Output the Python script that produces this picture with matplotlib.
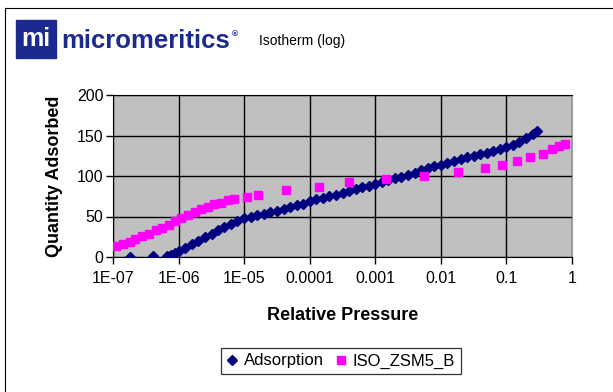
import matplotlib.pyplot as plt
from matplotlib.lines import Line2D
from matplotlib.patches import Rectangle

# Adsorption series (relative pressure, quantity adsorbed)
ads_pressure = [
    1.8e-7, 4.1e-7, 6.6e-7, 7.8e-7, 8.9e-7,
    1.0e-6, 1.26e-6, 1.58e-6, 2.0e-6, 2.5e-6, 3.2e-6, 4.0e-6, 5.0e-6, 6.3e-6, 7.9e-6,
    1.0e-5, 1.26e-5, 1.58e-5, 2.0e-5, 2.5e-5, 3.2e-5, 4.0e-5, 5.0e-5, 6.3e-5, 7.9e-5,
    1.0e-4, 1.26e-4, 1.58e-4, 2.0e-4, 2.5e-4, 3.2e-4, 4.0e-4, 5.0e-4, 6.3e-4, 7.9e-4,
    1.0e-3, 1.26e-3, 1.58e-3, 2.0e-3, 2.5e-3, 3.2e-3, 4.0e-3, 5.0e-3, 6.3e-3, 7.9e-3,
    1.0e-2, 1.26e-2, 1.58e-2, 2.0e-2, 2.5e-2, 3.2e-2, 4.0e-2, 5.0e-2, 6.3e-2, 7.9e-2,
    0.10, 0.126, 0.158, 0.20, 0.25, 0.29,
]
ads_quantity = [
    0.5, 1, 1, 3, 5,
    7, 11, 16, 20, 25, 29, 33, 37, 41, 45,
    48, 50, 52, 53, 55, 57, 59, 62, 64, 65.5,
    69, 71, 73, 75, 77, 79, 82, 84, 86, 88,
    90.5, 93, 95, 97, 99, 101.5, 104, 107, 110, 112,
    114, 116, 119, 121, 123, 125, 127, 129, 131, 133.5,
    136, 138.5, 142, 147, 152, 156,
]

# ISO_ZSM5_B series
iso_pressure = [
    1.1e-7, 1.4e-7, 1.8e-7, 2.2e-7, 2.8e-7, 3.5e-7, 4.5e-7, 5.6e-7, 7.1e-7, 8.9e-7,
    1.1e-6, 1.4e-6, 1.8e-6, 2.2e-6, 2.8e-6, 3.5e-6, 4.5e-6, 5.6e-6, 7.1e-6,
    1.1e-5, 1.6e-5, 4.4e-5, 1.4e-4, 4.0e-4, 1.45e-3, 5.5e-3,
    0.018, 0.047, 0.085, 0.145, 0.23, 0.36, 0.50, 0.63, 0.78,
]
iso_quantity = [
    14, 16, 19, 22, 26, 29, 33, 36, 40, 44,
    48, 52, 56, 59, 62, 65, 67, 70, 72,
    74, 76.5, 83, 86, 92, 96, 100,
    105, 109.5, 113.5, 119, 123, 127, 133, 137, 140,
]

x_ticks = [1e-7, 1e-6, 1e-5, 1e-4, 1e-3, 1e-2, 1e-1, 1]
x_tick_labels = ["1E-07", "1E-06", "1E-05", "0.0001", "0.001", "0.01", "0.1", "1"]
y_ticks = [0, 50, 100, 150, 200]

NAVY = "#000080"
MAGENTA = "#ff00ff"
LOGO_BLUE = "#1c2a8f"

plt.rcParams["font.family"] = ["Liberation Sans", "DejaVu Sans"]

fig = plt.figure(figsize=(6.13, 3.92), dpi=100)
W, H = 613, 392

# thin frame on top and left edge
fig.add_artist(Line2D([5 / W, 1], [1 - 8 / H, 1 - 8 / H], color="black", lw=0.8))
fig.add_artist(Line2D([5 / W, 5 / W], [0, 1 - 8 / H], color="black", lw=0.8))

# logo
fig.add_artist(Rectangle((16 / W, 1 - 58 / H), 40 / W, 38 / H, facecolor=LOGO_BLUE,
                         edgecolor=LOGO_BLUE, transform=fig.transFigure))
fig.text(36 / W, 1 - 39 / H, "mi", color="white", fontsize=18, fontweight="bold",
         ha="center", va="center")
fig.text(61 / W, 1 - 41 / H, "micromeritics", color=LOGO_BLUE, fontsize=18.5,
         fontweight="bold", ha="left", va="center")
fig.text(232 / W, 1 - 35 / H, "®", color=LOGO_BLUE, fontsize=6, fontweight="bold",
         ha="left", va="center")
fig.text(259 / W, 1 - 41 / H, "Isotherm (log)", fontsize=10, ha="left", va="center")

ax = fig.add_axes([113 / W, 1 - 257 / H, (572 - 113) / W, (257 - 95) / H])
ax.set_facecolor("#c0c0c0")

ax.plot(ads_pressure, ads_quantity, linestyle="none", marker="D", markersize=5.5,
        color=NAVY, label="Adsorption", zorder=3)
ax.plot(iso_pressure, iso_quantity, linestyle="none", marker="s", markersize=6.3,
        color=MAGENTA, label="ISO_ZSM5_B", zorder=4)

ax.set_xscale("log")
ax.set_xlim(1e-7, 1)
ax.set_ylim(0, 200)
ax.set_xticks(x_ticks)
ax.set_xticklabels(x_tick_labels)
ax.minorticks_off()
ax.set_yticks(y_ticks)
ax.grid(True, color="black", linewidth=1.0)
ax.set_axisbelow(True)
ax.tick_params(axis="both", direction="out", length=5, width=1, labelsize=11.5)
ax.tick_params(axis="x", pad=5)
ax.tick_params(axis="y", pad=2)
for side in ["left", "bottom", "top"]:
    ax.spines[side].set_color("black")
ax.spines["right"].set_color("#a0a0a0")

ax.set_xlabel("Relative Pressure", fontsize=13, fontweight="bold", labelpad=15)
ax.set_ylabel("Quantity Adsorbed", fontsize=13, fontweight="bold", labelpad=9.5)

leg = ax.legend(loc="center", bbox_to_anchor=(341 / W, 1 - 361 / H),
                bbox_transform=fig.transFigure, ncol=2, frameon=True, fancybox=False,
                edgecolor="black", fontsize=12, handlelength=0.6, handletextpad=0.4,
                columnspacing=0.7, borderpad=0.35, markerscale=1.0)
leg.get_frame().set_linewidth(0.9)

plt.savefig("out.png", dpi=100)
